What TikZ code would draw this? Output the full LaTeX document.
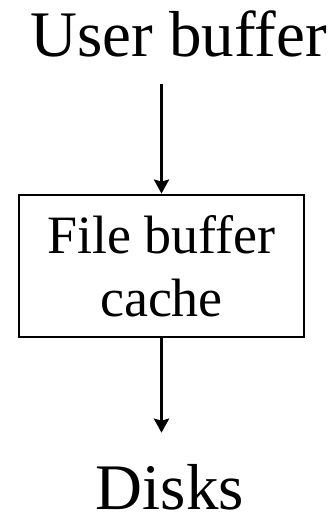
\documentclass[tikz,border=0pt]{standalone}
\usepackage{fontspec}
\setmainfont{Liberation Serif}
\usetikzlibrary{arrows.meta,positioning}

\begin{document}
\begin{tikzpicture}[
  x=1bp, y=1bp,
  lbl/.style={font=\fontsize{65bp}{76bp}\selectfont, inner sep=0pt, anchor=base},
  cachebox/.style={draw=black, line width=2.8bp, align=center,
                   minimum width=285bp, minimum height=142bp, inner sep=0pt,
                   font=\fontsize{54bp}{63bp}\selectfont},
  arr/.style={-{Stealth[length=14bp, width=15bp, inset=2bp]}, line width=3.8bp}]

\useasboundingbox (0,0) rectangle (334,-522);

% ---------- the three levels ----------
\node[lbl] (user) at (178.5,-57) {User buffer};
\node[cachebox] (cache) at (161.5,-266) {File buffer\\cache};
\node[lbl] (disks) at (170,-509) {Disks};

% ---------- flow ----------
\draw[arr, shorten <=26bp] (cache.north |- user.south) -- (cache.north);
\draw[arr, shorten >=31bp] (cache.south) -- (cache.south |- disks.north);
\end{tikzpicture}
\end{document}
